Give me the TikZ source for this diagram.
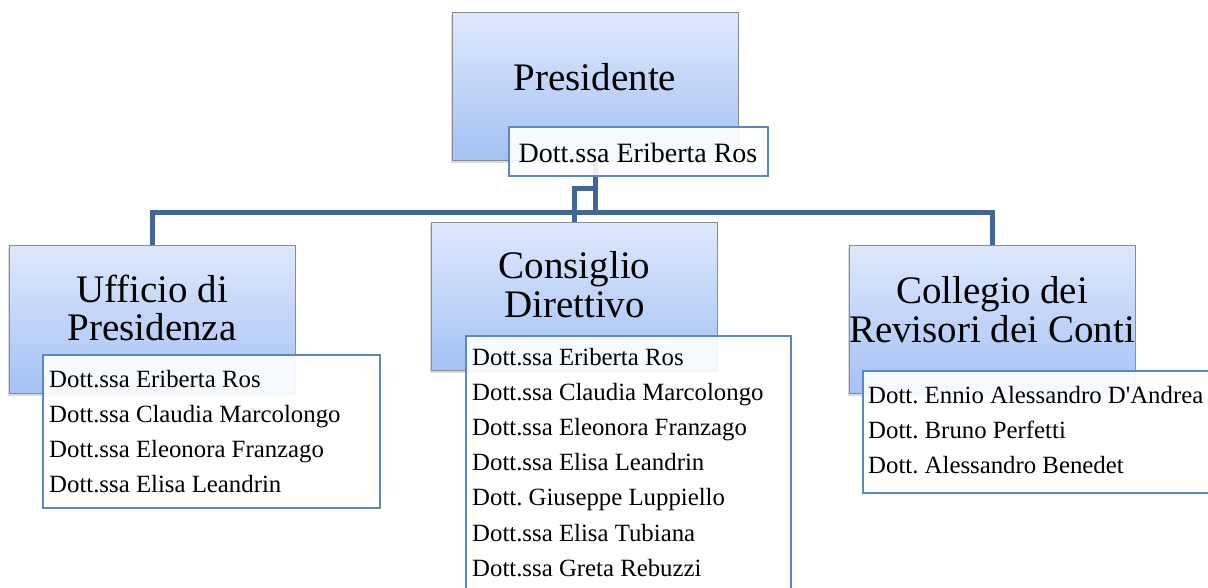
\documentclass[tikz,border=0pt]{standalone}
\usepackage{fontspec}
\setmainfont{Liberation Serif}
\usetikzlibrary{shadows}
\definecolor{connblue}{RGB}{64,103,150}
\definecolor{listblue}{RGB}{91,135,197}
\definecolor{boxtop}{RGB}{222,232,252}
\definecolor{boxbot}{RGB}{164,194,245}
\definecolor{boxedge}{RGB}{140,140,140}
\frenchspacing
\begin{document}
\begin{tikzpicture}[x=1pt,y=-1pt,
 unitbox/.style={draw=boxedge, line width=0.8pt, top color=boxtop, bottom color=boxbot,
   minimum width=286pt, minimum height=148pt, inner sep=0pt,
   drop shadow={shadow xshift=-1.5pt, shadow yshift=-3pt, opacity=0.3}},
 listbox/.style={draw=listblue, line width=1.5pt, fill=white, fill opacity=0.9, inner sep=0pt},
 conn/.style={draw=connblue, line width=5pt},
 head/.style={anchor=base, font=\fontsize{39}{39}\selectfont, inner sep=0pt},
 nm/.style={anchor=base west, font=\fontsize{24.8}{30}\selectfont, inner sep=0pt}]
\useasboundingbox (0,0) rectangle (1208,587);
\clip (0,0) rectangle (1208,587);

% unit boxes
\node[unitbox] (pres) at (595,86) {};
\node[unitbox] (uff) at (152,319) {};
\node[unitbox] (cons) at (574.5,296) {};
\node[unitbox] (col) at (992,319) {};

% connectors
\coordinate (bus) at (0,212);
\coordinate (elbow) at (0,188);
\draw[conn] (pres.south) -- (pres.south |- bus) -| (uff.north);
\draw[conn] (pres.south |- bus) -| (col.north);
\draw[conn] (pres.south |- bus) -- (pres.south |- elbow) -| (cons.north);

% headings
\node[head] (presT) at (595,90) {Presidente};
\node[head] (uffT1) at (152,302) {Ufficio di};
\node[head] (uffT2) at (152,340) {Presidenza};
\node[head] (consT1) at (574.5,278) {Consiglio};
\node[head] (consT2) at (574.5,317) {Direttivo};
\node[head] (colT1) at (992,303) {Collegio dei};
\node[head] (colT2) at (992,342) {Revisori dei Conti};

% name boxes
\node[listbox, minimum width=259pt, minimum height=49pt] (presL) at (638.5,151.5) {};
\node[listbox, minimum width=337pt, minimum height=153pt] (uffL) at (211.5,431.5) {};
\node[listbox, minimum width=325pt, minimum height=270pt] (consL) at (628.5,471) {};
\node[listbox, minimum width=360pt, minimum height=122pt] (colL) at (1043,432) {};

% names
\node[anchor=base, font=\fontsize{28}{30}\selectfont, inner sep=0pt] (presN) at (638,162) {Dott.ssa Eriberta Ros};
\foreach \t [count=\i] in {Dott.ssa Eriberta Ros, Dott.ssa Claudia Marcolongo, Dott.ssa Eleonora Franzago, Dott.ssa Elisa Leandrin}
  \node[nm] (uffN\i) at (49,352+35*\i) {\t};
\foreach \t [count=\i] in {Dott.ssa Eriberta Ros, Dott.ssa Claudia Marcolongo, Dott.ssa Eleonora Franzago, Dott.ssa Elisa Leandrin, Dott. Giuseppe Luppiello, Dott.ssa Elisa Tubiana, Dott.ssa Greta Rebuzzi}
  \node[nm] (consN\i) at (472,329.8+35.2*\i) {\t};
\foreach \t [count=\i] in {Dott. Ennio Alessandro D\textquotesingle{}Andrea, Dott. Bruno Perfetti, Dott. Alessandro Benedet}
  \node[nm] (colN\i) at (868,368+35*\i) {\t};
\end{tikzpicture}
\end{document}
